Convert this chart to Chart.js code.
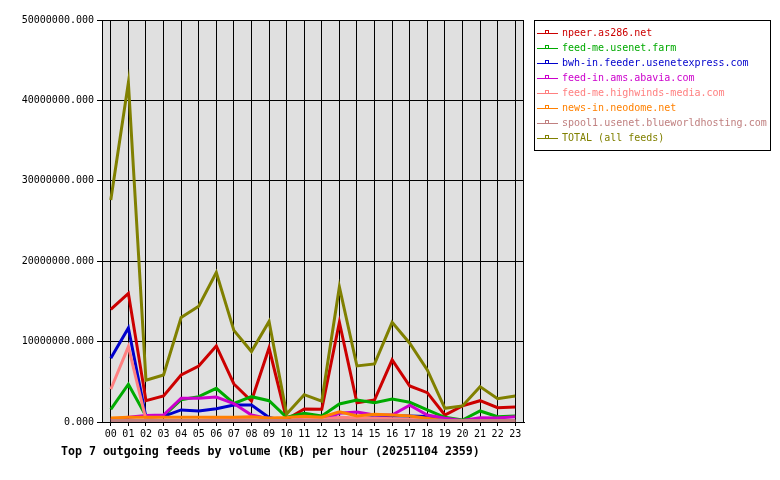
<!DOCTYPE html>
<html>
<head>
<meta charset="utf-8">
<script src="https://cdn.jsdelivr.net/npm/chart.js@4.4.0/dist/chart.umd.min.js"></script>
<style>
  html, body { margin: 0; padding: 0; background: #fff; }
  #grafico { display: block; }
</style>
</head>
<body>
<canvas id="grafico" width="780" height="480" style="width:780px;height:480px"></canvas>
<script>
// ---- datos (KB por hora) ----
const horas = ["00", "01", "02", "03", "04", "05", "06", "07", "08", "09", "10", "11",
  "12", "13", "14", "15", "16", "17", "18", "19", "20", "21", "22", "23"];

const nombres = [
  "npeer.as286.net",
  "feed-me.usenet.farm",
  "bwh-in.feeder.usenetexpress.com",
  "feed-in.ams.abavia.com",
  "feed-me.highwinds-media.com",
  "news-in.neodome.net",
  "spool1.usenet.blueworldhosting.com",
  "TOTAL (all feeds)",
];
const colores = ["#cc0000", "#00aa00", "#0000cc", "#cc00cc", "#ff8080", "#ff8000", "#c08080", "#808000"];

const npeer = [14000000, 16000000, 2650000, 3240000, 5850000, 6970000, 9460000, 4730000,
  2600000, 9200000, 330000, 1620000, 1580000, 12400000, 2400000, 2740000, 7720000,
  4480000, 3650000, 870000, 2000000, 2650000, 1780000, 1870000];
const feedMe = [1580000, 4700000, 750000, 750000, 2780000, 3150000, 4190000, 2300000,
  3150000, 2650000, 580000, 1080000, 750000, 2240000, 2740000, 2400000, 2860000,
  2450000, 1500000, 580000, 250000, 1370000, 660000, 750000];
const bwhIn = [7930000, 11700000, 600000, 700000, 1500000, 1370000, 1660000, 2100000,
  2100000, 560000, 100000, 150000, 200000, 600000, 300000, 600000, 750000, 750000,
  700000, 200000, 100000, 100000, 100000, 100000];
const abavia = [300000, 600000, 800000, 870000, 2950000, 2950000, 3100000, 2300000,
  870000, 400000, 200000, 300000, 300000, 1080000, 1250000, 870000, 870000, 2100000,
  870000, 460000, 200000, 540000, 500000, 660000];
const highwinds = [4070000, 9380000, 300000, 200000, 200000, 200000, 300000, 300000,
  300000, 200000, 200000, 300000, 300000, 600000, 500000, 500000, 400000, 300000,
  300000, 200000, 100000, 100000, 100000, 100000];
const neodome = [500000, 600000, 600000, 600000, 600000, 600000, 600000, 600000, 660000,
  500000, 550000, 700000, 600000, 1280000, 750000, 950000, 870000, 750000, 460000,
  100000, 50000, 50000, 50000, 50000];
const spool1 = [200000, 200000, 200000, 200000, 200000, 200000, 200000, 200000, 200000,
  200000, 200000, 200000, 200000, 200000, 200000, 200000, 200000, 200000, 200000,
  200000, 200000, 200000, 200000, 200000];
const total = [27600000, 42200000, 5200000, 5850000, 13000000, 14400000, 18600000,
  11400000, 8760000, 12500000, 1000000, 3400000, 2600000, 16800000, 6970000, 7220000,
  12400000, 9800000, 6470000, 1700000, 2000000, 4400000, 2900000, 3240000];

const series = [npeer, feedMe, bwhIn, abavia, highwinds, neodome, spool1, total];
const titulo = "Top 7 outgoing feeds by volume (KB) per hour (20251104 2359)";

const fuente = "'DejaVu Sans Mono', monospace";

// fondo gris y marco del area de trazado
const fondoGris = {
  id: "fondoGris",
  beforeDraw(chart) {
    const { ctx, chartArea: a } = chart;
    ctx.save();
    ctx.fillStyle = "#e0e0e0";
    ctx.fillRect(a.left, a.top, a.right - a.left, a.bottom - a.top);
    ctx.restore();
  },
  beforeDatasetsDraw(chart) {
    const { ctx, chartArea: a } = chart;
    ctx.save();
    ctx.strokeStyle = "#000";
    ctx.lineWidth = 1;
    ctx.strokeRect(a.left + 0.5, a.top + 0.5, a.right - a.left - 1, a.bottom - a.top);
    ctx.restore();
  },
};

// leyenda en caja + titulo inferior
const leyendaCaja = {
  id: "leyendaCaja",
  afterDraw(chart) {
    const ctx = chart.ctx;
    ctx.save();
    ctx.strokeStyle = "#000";
    ctx.lineWidth = 1;
    ctx.strokeRect(534.5, 20.5, 236, 130);
    ctx.font = "10px " + fuente;
    ctx.textBaseline = "middle";
    nombres.forEach((n, i) => {
      const y = 33 + i * 15;
      ctx.fillStyle = colores[i];
      ctx.fillRect(537, y, 21, 1);
      ctx.strokeStyle = colores[i];
      ctx.strokeRect(545.5, y - 2.5, 3, 3);
      ctx.fillText(n, 562, y + 0.5);
    });
    ctx.fillStyle = "#000";
    ctx.font = "bold 11.6px " + fuente;
    ctx.fillText(titulo, 61, 452);
    ctx.restore();
  },
};

new Chart(document.getElementById("grafico"), {
  type: "line",
  data: {
    labels: horas,
    datasets: series.map((d, i) => ({
      label: nombres[i],
      data: d,
      borderColor: colores[i],
      backgroundColor: colores[i],
      borderWidth: 3,
      pointRadius: 0,
      tension: 0,
      fill: false,
      order: series.length - 1 - i,
    })),
  },
  options: {
    responsive: false,
    animation: false,
    layout: { padding: { left: 0, top: 20, right: 256, bottom: 0 } },
    plugins: {
      legend: { display: false },
      tooltip: { enabled: false },
    },
    scales: {
      x: {
        offset: true,
        grid: { offset: false, color: "#000", lineWidth: 1, tickLength: 4 },
        border: { color: "#000" },
        ticks: {
          autoSkip: false,
          maxRotation: 0,
          color: "#000",
          padding: 2,
          font: { family: fuente, size: 10 },
        },
        afterFit(s) { s.height = 58; },
      },
      y: {
        min: 0,
        max: 50000000,
        grid: { color: "#000", lineWidth: 1, tickLength: 5 },
        border: { color: "#000" },
        ticks: {
          stepSize: 10000000,
          color: "#000",
          padding: 3,
          font: { family: fuente, size: 10 },
          callback: (v) => v.toFixed(3),
        },
        afterFit(s) { s.width = 102; },
      },
    },
  },
  plugins: [fondoGris, leyendaCaja],
});
</script>
</body>
</html>
